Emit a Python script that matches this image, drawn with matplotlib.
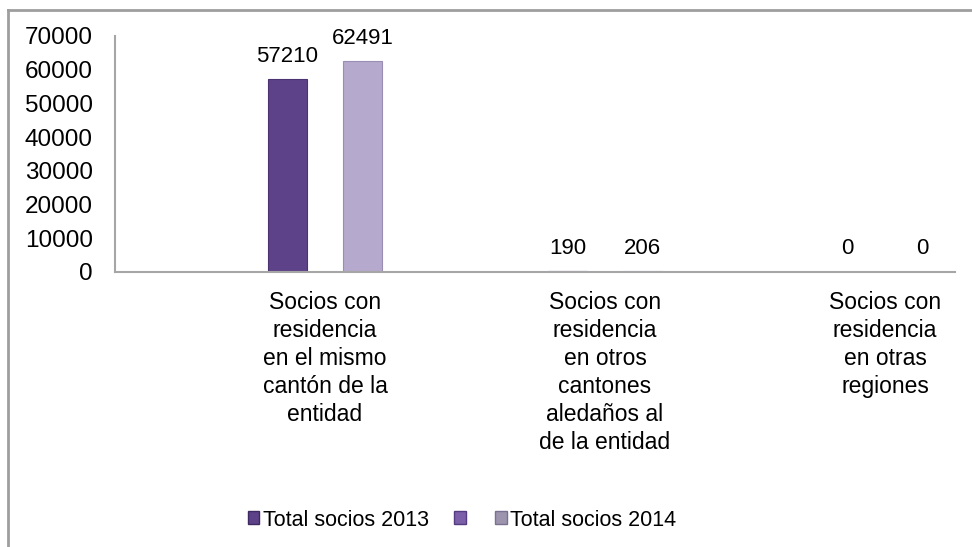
"""Socios por lugar de residencia, 2013 vs 2014 (barras agrupadas)."""

import matplotlib
matplotlib.use("Agg")
import matplotlib.pyplot as plt
import numpy as np
from matplotlib.lines import Line2D
from matplotlib.patches import Patch

plt.rcParams["font.family"] = ["Liberation Sans", "DejaVu Sans"]

# Data
categories = [
    "Socios con\nresidencia\nen el mismo\ncantón de la\nentidad",
    "Socios con\nresidencia\nen otros\ncantones\naledaños al\nde la entidad",
    "Socios con\nresidencia\nen otras\nregiones",
]
socios_2013 = [57210, 190, 0]
socios_2014 = [62491, 206, 0]
legend_labels = ["Total socios 2013", "", "Total socios 2014"]
y_ticks = [0, 10000, 20000, 30000, 40000, 50000, 60000, 70000]

color_2013 = "#5E4289"
color_2014 = "#B5A9CD"
color_mid = "#7B5FA8"
axis_grey = "#A6A6A6"

fig = plt.figure(figsize=(9.72, 5.47), dpi=100)
W, H = 972, 547

# outer chart frame: only top and left edges are visible in the screenshot
frame_kw = dict(transform=fig.transFigure, color="#9E9E9E", linewidth=2)
fig.lines.append(Line2D([8 / W, 1.0], [1 - 10 / H, 1 - 10 / H], **frame_kw))
fig.lines.append(Line2D([8 / W, 8 / W], [0.0, 1 - 10 / H], **frame_kw))

ax = fig.add_axes([115 / W, 1 - 272 / H, (955 - 115) / W, (272 - 36) / H])

x = np.arange(len(categories))
offset = 0.134
width = 0.139
bars1 = ax.bar(x - offset, socios_2013, width, color=color_2013,
               edgecolor="#4A3370", linewidth=0.8)
bars2 = ax.bar(x + offset, socios_2014, width, color=color_2014,
               edgecolor="#9A8DB3", linewidth=0.8)

for bars, vals in [(bars1, socios_2013), (bars2, socios_2014)]:
    for b, v in zip(bars, vals):
        ax.annotate(str(v), (b.get_x() + b.get_width() / 2, v),
                    xytext=(0, 9), textcoords="offset points",
                    ha="center", va="bottom", fontsize=16)

ax.set_xlim(-0.75, 2.25)
ax.set_ylim(0, 70000)
ax.set_yticks(y_ticks)
ax.set_yticklabels([str(t) for t in y_ticks], fontsize=17.5)
ax.set_xticks(x)
ax.set_xticklabels(categories, fontsize=16.5, linespacing=1.27, va="top")
ax.tick_params(axis="y", length=0, pad=16)
ax.tick_params(axis="x", length=0, pad=14)

for side in ["top", "right"]:
    ax.spines[side].set_visible(False)
for side in ["left", "bottom"]:
    ax.spines[side].set_color(axis_grey)
    ax.spines[side].set_linewidth(1.5)

handles = [
    Patch(facecolor=color_2013, edgecolor="#3E2A60"),
    Patch(facecolor=color_mid, edgecolor="#553C80"),
    Patch(facecolor="#9D94AE", edgecolor="#7A7190"),
]
fig.legend(handles, legend_labels, ncol=3, frameon=False, fontsize=15.5,
           loc="center", bbox_to_anchor=(462 / W, 1 - 520 / H),
           handlelength=0.55, handleheight=0.55, handletextpad=0.15,
           columnspacing=1.2, borderaxespad=0)

fig.savefig("out.png", dpi=100)
